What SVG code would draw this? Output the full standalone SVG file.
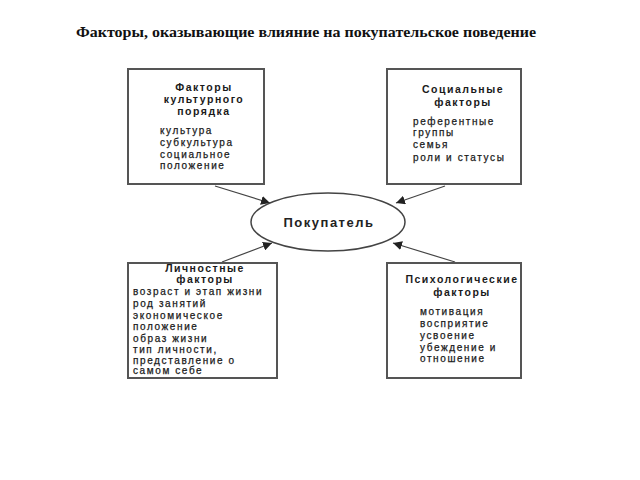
<svg xmlns="http://www.w3.org/2000/svg" width="640" height="480" viewBox="0 0 640 480">
<defs>
<style>
.box{fill:#fff;stroke:#555;stroke-width:2}
.hd{font-family:"Liberation Sans",Arial,sans-serif;font-weight:bold;font-size:10.5px;letter-spacing:1.5px;fill:#1a1a1a;text-anchor:middle}
.tx{font-family:"Liberation Sans",Arial,sans-serif;font-size:10px;letter-spacing:1.6px;fill:#1a1a1a;stroke:#1a1a1a;stroke-width:0.25}
.con{stroke:#444;stroke-width:1.2;fill:none;marker-end:url(#ah)}
</style>
<marker id="ah" viewBox="0 0 10 10" refX="10" refY="5" markerWidth="9" markerHeight="9" markerUnits="userSpaceOnUse" orient="auto">
<path d="M0,0 L10,5 L0,10 Z" fill="#222"/>
</marker>
</defs>
<rect width="640" height="480" fill="#fff"/>
<text x="76" y="37" font-family="'Liberation Serif','Times New Roman',serif" font-weight="bold" font-size="15" fill="#111" textLength="460" lengthAdjust="spacingAndGlyphs">Факторы, оказывающие влияние на покупательское поведение</text>

<g id="connectors">
<line class="con" x1="215" y1="186" x2="270" y2="203"/>
<line class="con" x1="445" y1="186" x2="396" y2="203"/>
<line class="con" x1="222" y1="262" x2="272" y2="243"/>
<line class="con" x1="455" y1="262" x2="393" y2="243"/>
</g>

<g id="cultural">
<rect class="box" x="128" y="69" width="136" height="115"/>
<text class="hd" x="204" y="91">Факторы</text>
<text class="hd" x="204" y="103">культурного</text>
<text class="hd" x="204" y="115">порядка</text>
<text class="tx" x="160" y="134">культура</text>
<text class="tx" x="160" y="146">субкультура</text>
<text class="tx" x="160" y="158">социальное</text>
<text class="tx" x="160" y="169">положение</text>
</g>

<g id="social">
<rect class="box" x="387" y="69" width="134" height="115"/>
<text class="hd" x="463" y="93">Социальные</text>
<text class="hd" x="463" y="106">факторы</text>
<text class="tx" x="413" y="125">референтные</text>
<text class="tx" x="413" y="136">группы</text>
<text class="tx" x="413" y="148">семья</text>
<text class="tx" x="413" y="161">роли и статусы</text>
</g>

<g id="buyer">
<ellipse cx="328" cy="222" rx="77" ry="29" fill="#fff" stroke="#444" stroke-width="1.5"/>
<text x="329" y="227" font-family="'Liberation Sans',Arial,sans-serif" font-weight="bold" font-size="13" letter-spacing="1.5" text-anchor="middle" fill="#222">Покупатель</text>
</g>

<g id="personal">
<rect class="box" x="128" y="263" width="149" height="115"/>
<text class="hd" x="205" y="272">Личностные</text>
<text class="hd" x="205" y="283">факторы</text>
<text class="tx" x="133" y="295">возраст и этап жизни</text>
<text class="tx" x="133" y="306.5">род занятий</text>
<text class="tx" x="133" y="318.5">экономическое</text>
<text class="tx" x="133" y="329.5">положение</text>
<text class="tx" x="133" y="341.5">образ жизни</text>
<text class="tx" x="133" y="353">тип личности,</text>
<text class="tx" x="133" y="363.5">представление о</text>
<text class="tx" x="133" y="374">самом себе</text>
</g>

<g id="psychological">
<rect class="box" x="387" y="263" width="134" height="115"/>
<text class="hd" x="462" y="283">Психологические</text>
<text class="hd" x="462" y="296">факторы</text>
<text class="tx" x="420" y="315">мотивация</text>
<text class="tx" x="420" y="327">восприятие</text>
<text class="tx" x="420" y="339">усвоение</text>
<text class="tx" x="420" y="351">убеждение и</text>
<text class="tx" x="420" y="362">отношение</text>
</g>
</svg>
